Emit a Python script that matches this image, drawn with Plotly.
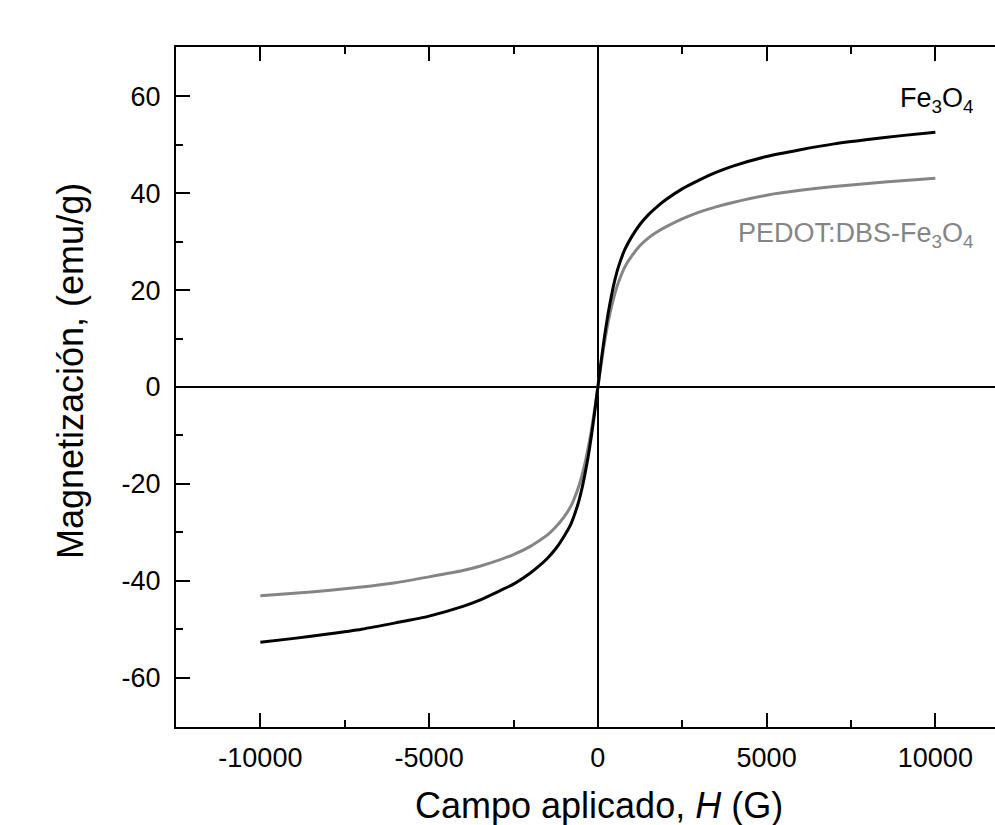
import plotly.graph_objects as go

# Applied field H (G)
H = [-10000, -9000, -8000, -7000, -6000, -5000, -4000, -3500, -3000, -2500, -2000, -1750, -1500, -1250,
     -1000, -800, -600, -500, -400, -300, -200, -100,
     0, 100, 200, 300, 400, 500, 600, 800, 1000, 1250, 1500, 1750, 2000, 2500, 3000, 3500, 4000,
     5000, 6000, 7000, 8000, 9000, 10000]

# Magnetization (emu/g)
M_fe3o4 = [-52.7, -51.9, -51.0, -50.0, -48.7, -47.3, -45.3, -44.0, -42.4, -40.7, -38.4, -37.0, -35.4, -33.4,
           -30.8, -28.3, -24.4, -21.8, -18.6, -14.9, -10.5, -5.5,
           0.0, 5.5, 10.6, 15.0, 18.8, 22.0, 24.6, 28.4, 31.0, 33.6, 35.6, 37.2, 38.6, 40.9, 42.7, 44.3, 45.6,
           47.6, 49.0, 50.2, 51.1, 51.9, 52.6]
M_pedot = [-43.1, -42.6, -42.0, -41.3, -40.4, -39.2, -37.9, -37.0, -35.9, -34.6, -32.9, -31.8, -30.6, -28.9,
           -26.8, -24.6, -21.2, -19.0, -16.3, -13.0, -9.3, -4.8,
           0.0, 4.8, 9.4, 13.2, 16.5, 19.2, 21.4, 24.8, 27.0, 29.2, 30.8, 32.0, 33.0, 34.7, 36.1, 37.2, 38.1,
           39.6, 40.6, 41.4, 42.0, 42.6, 43.1]

x_tickvals = [-10000, -5000, 0, 5000, 10000]
x_ticktext = ["-10000", "-5000", "0", "5000", "10000"]
y_tickvals = [-60, -40, -20, 0, 20, 40, 60]
y_ticktext = ["-60", "-40", "-20", "0", "20", "40", "60"]

FONT = "Liberation Sans, Arial, sans-serif"

fig = go.Figure()
fig.add_trace(go.Scatter(x=H, y=M_pedot, mode="lines", name="PEDOT:DBS-Fe3O4",
                         line=dict(color="#858585", width=3, shape="spline", smoothing=0.6)))
fig.add_trace(go.Scatter(x=H, y=M_fe3o4, mode="lines", name="Fe3O4",
                         line=dict(color="black", width=3, shape="spline", smoothing=0.6)))

fig.add_annotation(x=11200, y=59.3, xref="x", yref="y", text="Fe<sub>3</sub>O<sub>4</sub>",
                   showarrow=False, xanchor="right", yanchor="middle",
                   font=dict(family=FONT, size=27, color="black"))
fig.add_annotation(x=11200, y=31.4, xref="x", yref="y", text="PEDOT:DBS-Fe<sub>3</sub>O<sub>4</sub>",
                   showarrow=False, xanchor="right", yanchor="middle",
                   font=dict(family=FONT, size=27, color="#858585"))

# Axis titles
fig.add_annotation(x=0.5165, y=-0.115, xref="paper", yref="paper",
                   text="Campo aplicado, <i>H</i> (G)", showarrow=False,
                   xanchor="center", yanchor="middle",
                   font=dict(family=FONT, size=36, color="black"))
fig.add_annotation(x=-0.129, y=0.524, xref="paper", yref="paper",
                   text="Magnetización, (emu/g)", showarrow=False, textangle=-90,
                   xanchor="center", yanchor="middle",
                   font=dict(family=FONT, size=36, color="black"))

fig.update_layout(
    width=995, height=825,
    margin=dict(l=176, r=0, t=47, b=98),
    paper_bgcolor="white", plot_bgcolor="white",
    showlegend=False,
    font=dict(family=FONT, color="black"),
)

fig.update_xaxes(
    range=[-12500, 11767],
    tickvals=x_tickvals, ticktext=x_ticktext,
    ticks="inside", ticklen=14, tickwidth=2, tickcolor="black",
    minor=dict(ticks="inside", ticklen=7, tickwidth=2, tickcolor="black", dtick=2500, tick0=0, showgrid=False),
    showline=True, linecolor="black", linewidth=2, mirror="ticks",
    showgrid=False,
    zeroline=True, zerolinecolor="black", zerolinewidth=2,
    tickfont=dict(family=FONT, size=27),
    ticklabelstandoff=6,
    automargin=False,
)
fig.update_yaxes(
    range=[-70.2, 70.2],
    tickvals=y_tickvals, ticktext=y_ticktext,
    ticks="inside", ticklen=14, tickwidth=2, tickcolor="black",
    minor=dict(ticks="inside", ticklen=7, tickwidth=2, tickcolor="black", dtick=10, tick0=0, showgrid=False),
    showline=True, linecolor="black", linewidth=2, mirror=False,
    showgrid=False,
    zeroline=True, zerolinecolor="black", zerolinewidth=2,
    tickfont=dict(family=FONT, size=27),
    ticklabelstandoff=8,
    automargin=False,
)

fig.write_html("out.html")
